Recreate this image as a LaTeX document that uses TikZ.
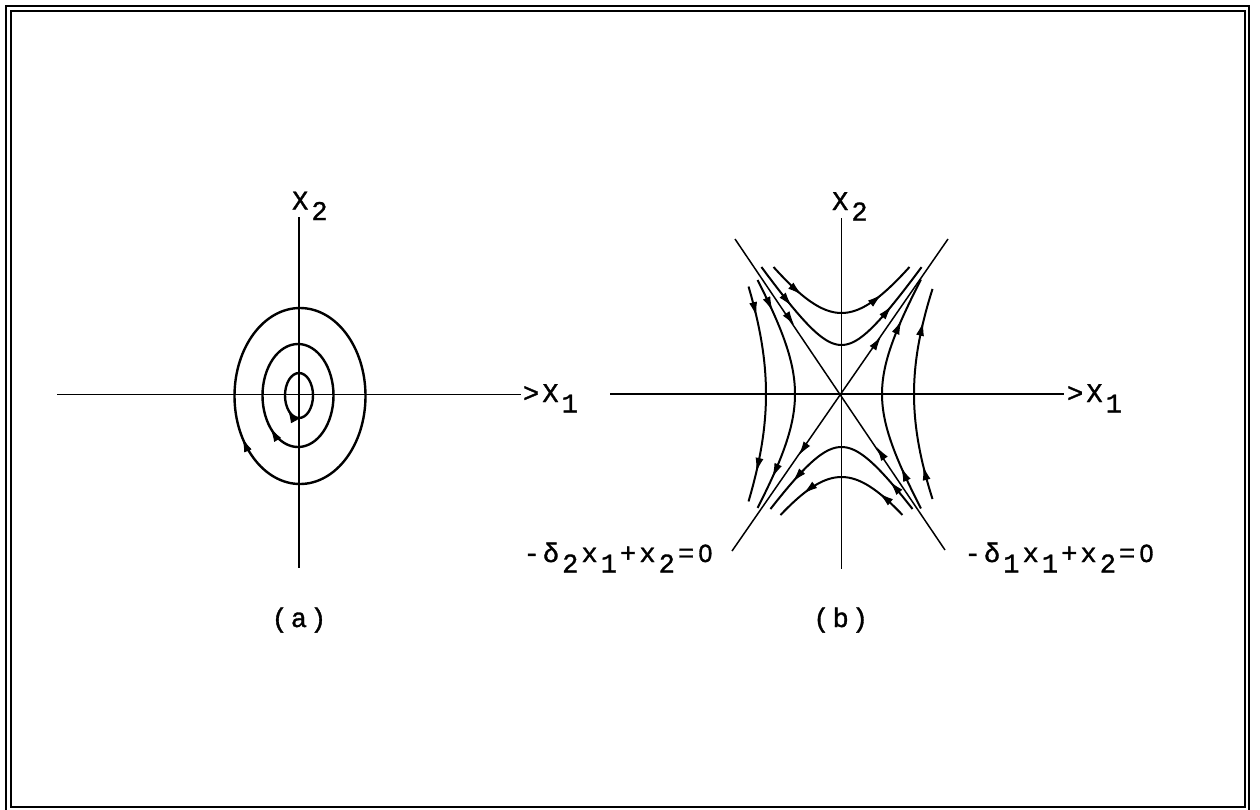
\documentclass[tikz,border=0pt]{standalone}
\usepackage{fontspec}
\newfontfamily\twfont[FakeBold=1.2]{Liberation Mono}
\newfontfamily\zerofont[FakeBold=1.2]{Liberation Sans}
\usetikzlibrary{arrows.meta,calc}
\newcommand\tch[1]{\makebox[19.3pt]{#1}}
\newcommand\tsub[1]{\makebox[19.3pt]{\raisebox{-10.5pt}{#1}}}
\newcommand\tzero{\makebox[19.3pt]{\zerofont\fontsize{25}{30}\selectfont 0}}
\begin{document}
\begin{tikzpicture}[x=1pt,y=-1pt,
  lbl/.style={font=\twfont\fontsize{27}{30}\selectfont, inner sep=0pt, anchor=base west},
  axis/.style={line width=1.4pt},
  diag/.style={line width=1.5pt},
  curve/.style={line width=2pt},
  ell/.style={line width=2.4pt},
  tip/.style={line width=1pt, -{Latex[length=14pt,width=8pt]}},
  frame/.style={line width=2pt}]
\useasboundingbox (0,0) rectangle (1260,809);
\draw[frame] (6,6) rectangle (1249,815);
\draw[frame] (11,11) rectangle (1245,807);

% ---------- (a) ----------
\coordinate (la) at (57,394.5);
\coordinate (ra) at (521,394.5);
\coordinate (ta) at (299,217);
\coordinate (ba) at (299,568);
\draw[axis] (la) -- (ra);
\draw[axis] (ta) -- (ba);
\draw[ell] (300,396) ellipse [x radius=65.5, y radius=88];
\draw[ell] (298,395.5) ellipse [x radius=35.5, y radius=51.5];
\draw[ell] (299,395.5) ellipse [x radius=14, y radius=22.5];
\draw[tip] plot[domain=149:151.5, samples=2] ({300+65.5*cos(\x)},{396+88*sin(\x)});
\draw[tip] plot[domain=137:141, samples=2] ({298+35.5*cos(\x)},{395.5+51.5*sin(\x)});
\draw[tip] plot[domain=135:143, samples=2] ({299+14*cos(\x)},{395.5+22.5*sin(\x)});

\node[lbl] (x2a) at (290.35,209.5) {\tch{X}\tsub{2}};
\node[lbl] (x1a) at (521.35,402) {\tch{>}\tch{X}\tsub{1}};
\node[lbl] (capa) at (269.85,627) {\tch{(}\tch{a}\tch{)}};

% ---------- (b) ----------
\coordinate (lb) at (610,394);
\coordinate (rb) at (1064,394);
\coordinate (tb) at (841.5,218);
\coordinate (bb) at (841.5,569);
\draw[axis] (lb) -- (rb);
\draw[axis] (tb) -- (bb);

\begin{scope}[shift={(841.5,394)}]
\coordinate (c) at (0,0);
\coordinate (nw) at (-106.5,-155);
\coordinate (se) at (103.5,156);
\coordinate (ne) at (106.5,-155);
\coordinate (sw) at (-109.5,157);
\draw[diag] (nw) -- (se);
\draw[diag] (ne) -- (sw);
% diagonal arrows
\draw[tip] ($(c)!0.47!(nw)$) -- ($(c)!0.445!(nw)$);
\draw[tip] ($(c)!0.36!(se)$) -- ($(c)!0.34!(se)$);
\draw[tip] ($(c)!0.35!(ne)$) -- ($(c)!0.37!(ne)$);
\draw[tip] ($(c)!0.37!(sw)$) -- ($(c)!0.39!(sw)$);

% top curves (flow left to right)
\draw[curve] plot[domain=-1.021:1.021, samples=50] ({56.3*sinh(\x)},{-81*cosh(\x)});
\draw[curve] plot[domain=-1.606:1.606, samples=60] ({33.5*sinh(\x)},{-49*cosh(\x)});
\draw[tip] plot[domain=-0.68:-0.66, samples=2] ({56.3*sinh(\x)},{-81*cosh(\x)});
\draw[tip] plot[domain=0.64:0.66, samples=2] ({56.3*sinh(\x)},{-81*cosh(\x)});
\draw[tip] plot[domain=-1.21:-1.19, samples=2] ({33.5*sinh(\x)},{-49*cosh(\x)});
\draw[tip] plot[domain=1.17:1.19, samples=2] ({33.5*sinh(\x)},{-49*cosh(\x)});

% bottom curves (flow right to left)
\draw[curve] plot[domain=-1.41:1.41, samples=60] ({36.9*sinh(\x)},{53*cosh(\x)});
\draw[curve] plot[domain=-0.924:0.924, samples=50] ({57.5*sinh(\x)},{83*cosh(\x)});
\draw[tip] plot[domain=1.07:1.09, samples=2] ({-36.9*sinh(\x)},{53*cosh(\x)});
\draw[tip] plot[domain=-1.11:-1.09, samples=2] ({-36.9*sinh(\x)},{53*cosh(\x)});
\draw[tip] plot[domain=0.60:0.62, samples=2] ({-57.5*sinh(\x)},{83*cosh(\x)});
\draw[tip] plot[domain=-0.64:-0.62, samples=2] ({-57.5*sinh(\x)},{83*cosh(\x)});

% left curves (flow downward)
\draw[curve] plot[domain=-1.197:1.197, samples=50] ({-46.5*cosh(\x)},{75.8*sinh(\x)});
\draw[curve] plot[domain=-0.668:0.668, samples=40] ({-75.5*cosh(\x)},{149.5*sinh(\x)});
\draw[tip] plot[domain=-0.97:-0.95, samples=2] ({-46.5*cosh(\x)},{75.8*sinh(\x)});
\draw[tip] plot[domain=0.93:0.95, samples=2] ({-46.5*cosh(\x)},{75.8*sinh(\x)});
\draw[tip] plot[domain=-0.52:-0.50, samples=2] ({-75.5*cosh(\x)},{149.5*sinh(\x)});
\draw[tip] plot[domain=0.48:0.50, samples=2] ({-75.5*cosh(\x)},{149.5*sinh(\x)});

% right curves (flow upward)
\draw[curve] plot[domain=-1.295:1.295, samples=50] ({40.5*cosh(\x)},{67.8*sinh(\x)});
\draw[curve] plot[domain=-0.70:0.70, samples=40] ({72.5*cosh(\x)},{138.5*sinh(\x)});
\draw[tip] plot[domain=0.92:0.94, samples=2] ({40.5*cosh(\x)},{-67.8*sinh(\x)});
\draw[tip] plot[domain=-0.96:-0.94, samples=2] ({40.5*cosh(\x)},{-67.8*sinh(\x)});
\draw[tip] plot[domain=0.48:0.50, samples=2] ({72.5*cosh(\x)},{-138.5*sinh(\x)});
\draw[tip] plot[domain=-0.52:-0.50, samples=2] ({72.5*cosh(\x)},{-138.5*sinh(\x)});
\end{scope}

\node[lbl] (x2b) at (830.35,210) {\tch{X}\tsub{2}};
\node[lbl] (x1b) at (1065.35,402) {\tch{>}\tch{X}\tsub{1}};
\node[lbl] (capb) at (811.55,627) {\tch{(}\tch{b}\tch{)}};
\node[lbl] (eq2) at (521.85,562) {\tch{-}\tch{δ}\tsub{2}\tch{x}\tsub{1}\tch{+}\tch{x}\tsub{2}\tch{=}\tzero};
\node[lbl] (eq1) at (962.95,562) {\tch{-}\tch{δ}\tsub{1}\tch{x}\tsub{1}\tch{+}\tch{x}\tsub{2}\tch{=}\tzero};
\end{tikzpicture}
\end{document}
